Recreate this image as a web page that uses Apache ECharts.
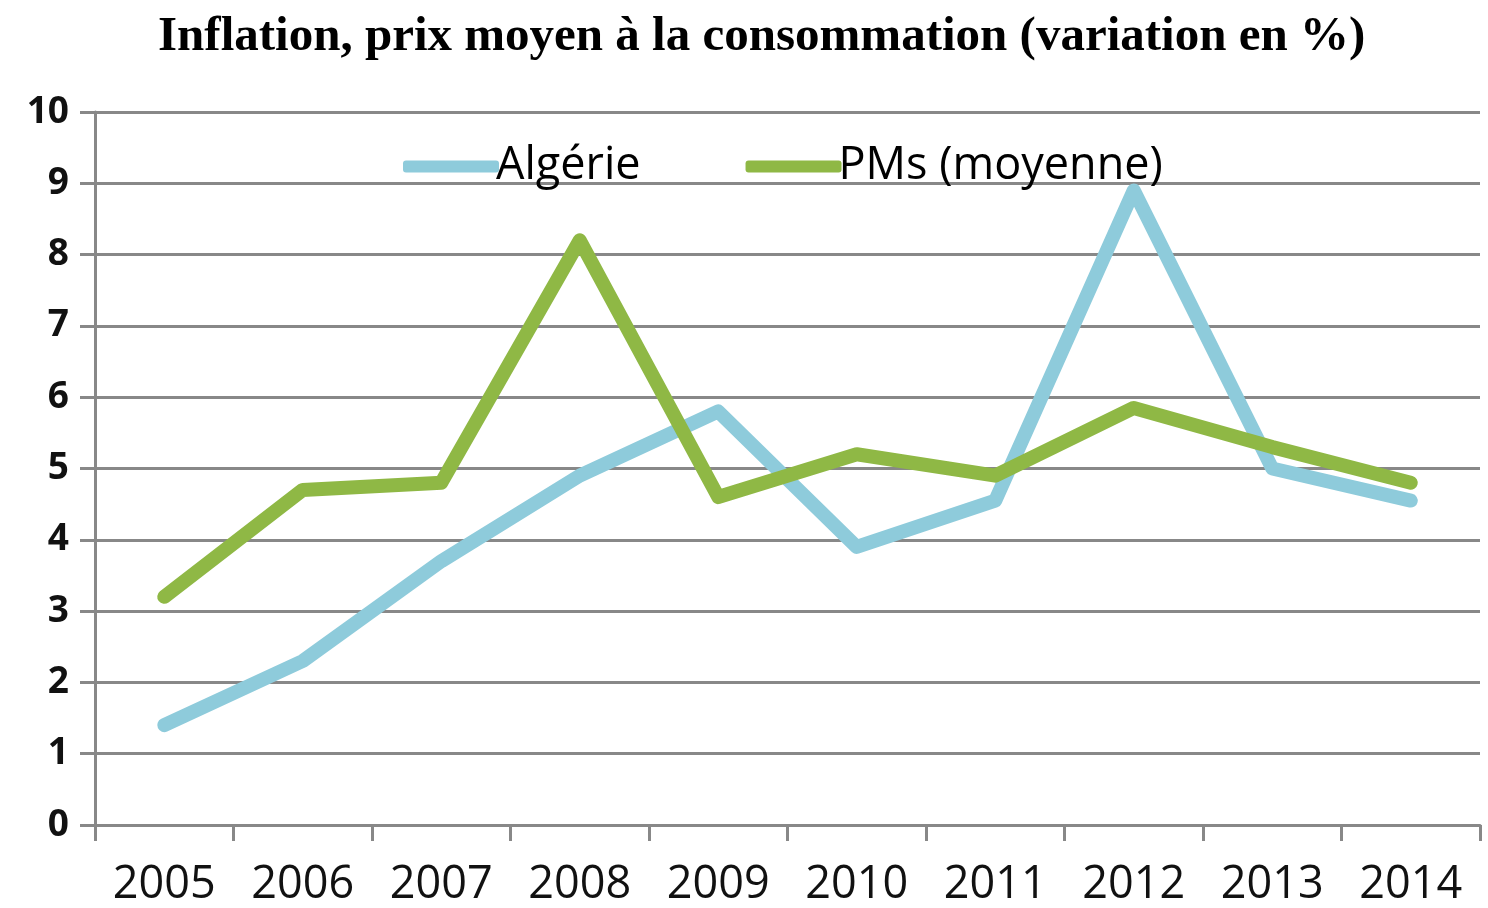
<!DOCTYPE html>
<html lang="fr">
<head>
    <meta charset="UTF-8">
    <title>Inflation, prix moyen à la consommation</title>
    <script src="https://cdn.jsdelivr.net/npm/echarts@6/dist/echarts.min.js"></script>
    <style>
        html, body { margin: 0; padding: 0; background: #fff; }
        #main { width: 1488px; height: 908px; }
    </style>
</head>
<body>
<div id="main"></div>
<script type="text/javascript">
    // données
    var years = ['2005', '2006', '2007', '2008', '2009', '2010', '2011', '2012', '2013', '2014'];
    var algerie = [1.4, 2.3, 3.7, 4.9, 5.8, 3.9, 4.55, 8.9, 5.0, 4.55];
    var pms = [3.2, 4.7, 4.8, 8.2, 4.6, 5.2, 4.9, 5.85, 5.3, 4.8];
    var yTicks = [0, 1, 2, 3, 4, 5, 6, 7, 8, 9, 10];

    var myChart = echarts.init(document.getElementById('main'));

    var option = {
        backgroundColor: '#fff',
        animation: false,
        title: {
            text: 'Inflation, prix moyen à la consommation (variation en %)',
            left: 153,
            top: 8,
            textStyle: {
                fontFamily: 'Liberation Serif',
                fontWeight: 'bold',
                fontSize: 49,
                color: '#000'
            }
        },
        legend: {
            top: 139,
            left: 398,
            itemGap: 105,
            itemWidth: 96,
            itemHeight: 12,
            icon: 'roundRect',
            textStyle: {
                fontFamily: 'Open Sans',
                fontSize: 45,
                color: '#000',
                padding: [0, 0, 0, -8]
            },
            data: ['Algérie', 'PMs (moyenne)']
        },
        grid: {
            left: 95,
            right: 8,
            top: 112,
            bottom: 82
        },
        xAxis: {
            type: 'category',
            data: years,
            boundaryGap: true,
            axisLine: { lineStyle: { color: '#888', width: 3 } },
            axisTick: { show: true, length: 16, lineStyle: { color: '#888', width: 3 } },
            axisLabel: {
                margin: 38,
                fontFamily: 'Open Sans',
                fontSize: 45,
                color: '#111'
            }
        },
        yAxis: {
            type: 'value',
            min: yTicks[0],
            max: yTicks[yTicks.length - 1],
            interval: 1,
            axisLine: { show: true, lineStyle: { color: '#888', width: 3 } },
            axisTick: { show: true, length: 15, lineStyle: { color: '#888', width: 3 } },
            splitLine: { lineStyle: { color: '#888', width: 3 } },
            axisLabel: {
                margin: 26,
                fontFamily: 'Open Sans',
                fontWeight: 'bold',
                fontSize: 37,
                color: '#111'
            }
        },
        series: [
            {
                name: 'Algérie',
                type: 'line',
                data: algerie,
                showSymbol: false,
                symbol: 'none',
                itemStyle: { color: '#8ECBDB' },
                lineStyle: { color: '#8ECBDB', width: 14, cap: 'round', join: 'round' }
            },
            {
                name: 'PMs (moyenne)',
                type: 'line',
                data: pms,
                showSymbol: false,
                symbol: 'none',
                itemStyle: { color: '#8FB845' },
                lineStyle: { color: '#8FB845', width: 14, cap: 'round', join: 'round' }
            }
        ]
    };

    myChart.setOption(option);
</script>
</body>
</html>
